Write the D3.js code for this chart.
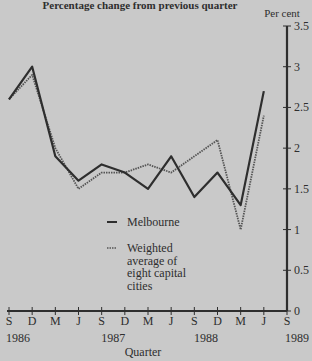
<!DOCTYPE html>
<html><head><meta charset="utf-8">
<script src="https://cdn.jsdelivr.net/npm/d3@7"></script>
<style>
html,body{margin:0;padding:0;background:#c9c9c9;}
svg{display:block;font-family:"Liberation Serif","Times New Roman",serif;}
</style></head>
<body><svg id="c" width="312" height="361"></svg>
<script>
const quarters = ["S","D","M","J","S","D","M","J","S","D","M","J","S"];
const years = ["1986","1987","1988","1989"];
const melbourne = [2.6,3.0,1.9,1.6,1.8,1.7,1.5,1.9,1.4,1.7,1.3,2.7];
const weighted  = [2.6,2.9,2.0,1.5,1.7,1.7,1.8,1.7,1.9,2.1,1.0,2.4];
const yTicks = [0,0.5,1,1.5,2,2.5,3,3.5];

const svg = d3.select("#c");
const x = d3.scaleLinear().domain([0,12]).range([9,287]);
const y = d3.scaleLinear().domain([0,3.5]).range([311,26]);
const ink = "#2e2e2e";

svg.append("rect").attr("width",312).attr("height",361).attr("fill","#c9c9c9");

svg.append("text").attr("x",140).attr("y",9).attr("text-anchor","middle")
  .attr("font-weight","bold").attr("font-size",11).attr("fill",ink)
  .text("Percentage change from previous quarter");
svg.append("text").attr("x",282).attr("y",17).attr("text-anchor","middle")
  .attr("font-size",11).attr("fill",ink).text("Per cent");

// lines
const line = d3.line().x((d,i)=>x(i)).y(d=>y(d));
svg.append("path").datum(weighted).attr("d",line).attr("fill","none")
  .attr("stroke","#555").attr("stroke-width",1.8).attr("stroke-dasharray","1.5,1")
  .attr("stroke-linejoin","round");
svg.append("path").datum(melbourne).attr("d",line).attr("fill","none")
  .attr("stroke",ink).attr("stroke-width",2.2).attr("stroke-linejoin","round");

// y axis
const ya = svg.append("g").attr("transform",`translate(${x(12)},0)`);
ya.append("line").attr("y1",y(3.5)).attr("y2",y(0)).attr("stroke",ink).attr("stroke-width",2.2);
ya.selectAll("line.t").data(yTicks).join("line").attr("class","t")
  .attr("x1",-4).attr("x2",4).attr("y1",d=>y(d)).attr("y2",d=>y(d))
  .attr("stroke",ink).attr("stroke-width",1);
ya.selectAll("text").data(yTicks).join("text")
  .attr("x",7).attr("y",d=>y(d)+4).attr("font-size",12).attr("fill",ink)
  .text(d=>d3.format("~g")(d));

// x axis
const xa = svg.append("g");
xa.append("line").attr("x1",x(0)-2).attr("x2",x(12)).attr("y1",y(0)).attr("y2",y(0))
  .attr("stroke",ink).attr("stroke-width",2.2);
xa.selectAll("line.t").data(quarters).join("line").attr("class","t")
  .attr("x1",(d,i)=>x(i)).attr("x2",(d,i)=>x(i)).attr("y1",y(0)-4).attr("y2",y(0)+4)
  .attr("stroke",ink).attr("stroke-width",1);
xa.selectAll("text.q").data(quarters).join("text").attr("class","q")
  .attr("x",(d,i)=>x(i)).attr("y",y(0)+14).attr("text-anchor","middle")
  .attr("font-size",12).attr("fill",ink).text(d=>d);
const yearPos = [x(0)+9, (x(4)+x(5))/2, (x(8)+x(9))/2, x(12)+10];
xa.selectAll("text.y").data(years).join("text").attr("class","y")
  .attr("x",(d,i)=>yearPos[i]).attr("y",y(0)+31).attr("text-anchor","middle")
  .attr("font-size",12).attr("fill",ink).text(d=>d);
svg.append("text").attr("x",143).attr("y",y(0)+45).attr("text-anchor","middle")
  .attr("font-size",12).attr("fill",ink).text("Quarter");

// legend
const lg = svg.append("g");
lg.append("line").attr("x1",107).attr("x2",117).attr("y1",222).attr("y2",222)
  .attr("stroke",ink).attr("stroke-width",2);
lg.append("text").attr("x",127).attr("y",226).attr("font-size",12).attr("fill",ink).text("Melbourne");
lg.append("line").attr("x1",107).attr("x2",117).attr("y1",248).attr("y2",248)
  .attr("stroke","#555").attr("stroke-width",1.6).attr("stroke-dasharray","1.5,1");
["Weighted","average of","eight capital","cities"].forEach((t,i)=>{
  lg.append("text").attr("x",127).attr("y",252+i*12.7).attr("font-size",12).attr("fill",ink).text(t);
});
</script></body></html>
